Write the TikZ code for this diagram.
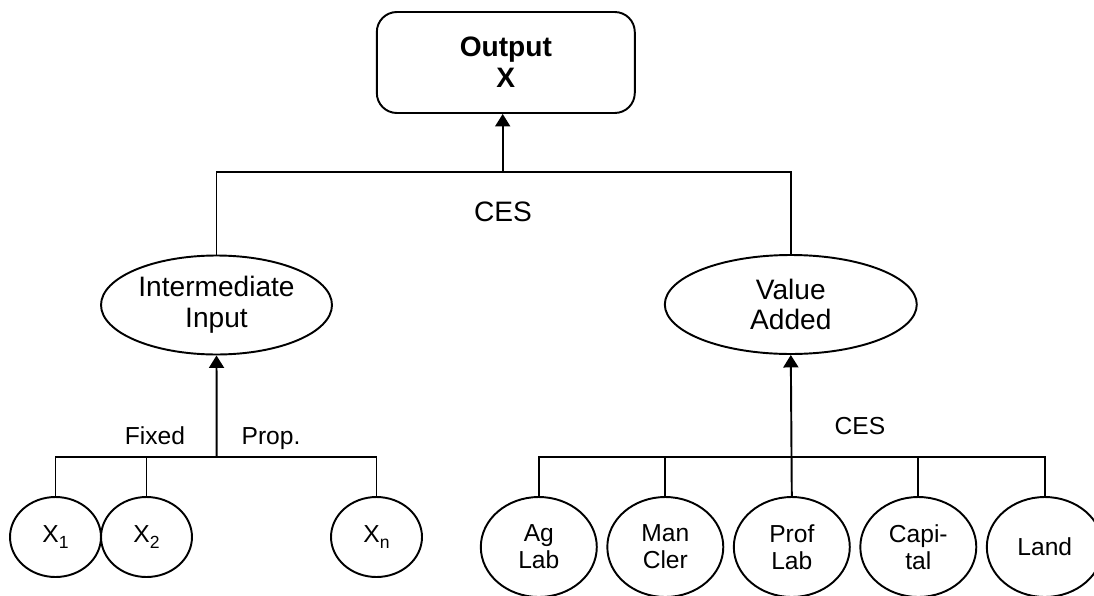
\documentclass[tikz,border=0pt]{standalone}
\usepackage{fontspec}
\setmainfont{Liberation Sans}
\usetikzlibrary{shapes.geometric,arrows.meta}

\newcommand{\lowsub}[1]{\raisebox{-0.45ex}{\fontsize{10}{10}\selectfont #1}}

\begin{document}
\begin{tikzpicture}[
    x=0.02cm, y=-0.02cm,
    line width=1.1pt,
    big/.style={font=\fontsize{16}{17.5}\selectfont},
    small/.style={font=\fontsize{14}{15.5}\selectfont},
    outbox/.style={draw, rounded corners=0.4cm, minimum width=5.16cm,
      minimum height=2.02cm, align=center, inner sep=0pt,
      font=\fontsize{16}{17.5}\selectfont\bfseries},
    agg/.style={draw, ellipse, minimum height=1.98cm, inner sep=0pt,
      align=center, big},
    good/.style={draw, ellipse, minimum width=1.82cm, minimum height=1.6cm,
      inner sep=0pt, small},
    fac/.style={draw, ellipse, minimum width=2.32cm, minimum height=2.0cm,
      inner sep=0pt, align=center, small},
    up/.style={-{Triangle[width=0.3cm,length=0.25cm]}},
  ]

  \useasboundingbox (0,0) rectangle (1094,595);

  % ---- top: the output ------------------------------------------------------
  \node[outbox] (out) at (505.8,62.5) {Output\\X};

  % ---- middle: the two aggregates --------------------------------------------
  \node[agg, minimum width=4.62cm] (ii) at (216.5,305) {Intermediate\\Input};
  \node[agg, minimum width=5.04cm] (va) at (790.8,304.5) {Value\\Added};

  \coordinate (topjoin) at (502.7,172);
  \draw (ii.north) |- (topjoin) -| (va.north);
  \draw[up] (topjoin) -- (topjoin |- out.south);
  \node[big] (ces) at (503,212) {CES};

  % ---- bottom left: the goods X_1 ... X_n -------------------------------------
  \node[good] (x1) at (55.5,537) {X\lowsub{1}};
  \node[good] (x2) at (146.5,537) {X\lowsub{2}};
  \node[good] (xn) at (376.5,537) {X\lowsub{n}};

  \coordinate (iijoin) at (216.7,456.7);
  \draw (x1.north) |- (iijoin) -| (xn.north);
  \draw (x2.north) -- (x2.north |- iijoin);
  \draw[up] (iijoin) -- (ii.south);
  \node[small, anchor=base] (fixed) at (155,444) {Fixed};
  \node[small, anchor=base] (prop) at (271,444) {Prop.};

  % ---- bottom right: the factors -------------------------------------------
  \foreach \name/\txt [count=\k from 0] in
      {ag/{Ag\\Lab}, man/{Man\\Cler}, prof/{Prof\\Lab}, capi/{Capi-\\tal}, land/{Land}}
    \node[fac] (\name) at ({538.8+\k*126.5},547) {\txt};

  \coordinate (vajoin) at (790.8,456.7);
  \draw (ag.north) |- (vajoin) -| (land.north);
  \foreach \name in {man,capi}
    \draw (\name.north) -- (\name.north |- vajoin);
  \draw[up] (prof.north) -- (va.south);
  \node[small] (ces2) at (860,426) {CES};

\end{tikzpicture}
\end{document}
